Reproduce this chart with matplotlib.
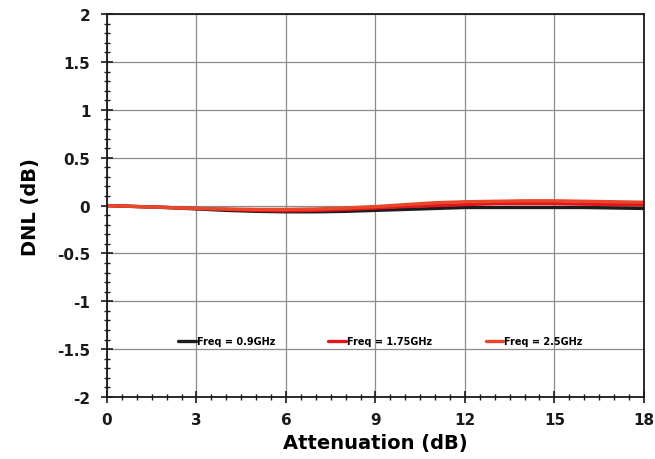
import matplotlib
matplotlib.use("Agg")
import matplotlib.pyplot as plt
from matplotlib.ticker import MultipleLocator

attenuation = [0, 1, 2, 3, 4, 5, 6, 7, 8, 9, 10, 11, 12, 13, 14, 15, 16, 17, 18]
dnl_0p9 = [0, -0.01, -0.02, -0.035, -0.05, -0.06, -0.065, -0.065, -0.06, -0.05,
           -0.04, -0.03, -0.02, -0.02, -0.02, -0.02, -0.02, -0.025, -0.03]
dnl_1p75 = [0, -0.01, -0.02, -0.03, -0.04, -0.05, -0.055, -0.05, -0.04, -0.025,
            -0.01, 0.0, 0.01, 0.02, 0.02, 0.02, 0.015, 0.01, 0.01]
dnl_2p5 = [0, -0.01, -0.02, -0.03, -0.035, -0.04, -0.04, -0.035, -0.025, -0.01,
           0.01, 0.03, 0.04, 0.045, 0.05, 0.05, 0.045, 0.04, 0.035]
series_labels = ["Freq = 0.9GHz", "Freq = 1.75GHz", "Freq = 2.5GHz"]
series_colors = ["#1c1c1c", "#e3151c", "#e8472a"]
y_ticks = [-2, -1.5, -1, -0.5, 0, 0.5, 1, 1.5, 2]
y_tick_labels = ["-2", "-1.5", "-1", "-0.5", "0", "0.5", "1", "1.5", "2"]

fig = plt.figure(figsize=(6.55, 4.6), dpi=100)
ax = fig.add_axes([0.1634, 0.1348, 0.8196, 0.8322])

for ys, lab, col in zip([dnl_0p9, dnl_1p75, dnl_2p5], series_labels, series_colors):
    ax.plot(attenuation, ys, color=col, lw=2.4, label=lab, solid_capstyle="round")

ax.set_xlim(0, 18)
ax.set_ylim(-2, 2)
ax.xaxis.set_major_locator(MultipleLocator(3))
ax.xaxis.set_minor_locator(MultipleLocator(0.5))
ax.set_yticks(y_ticks)
ax.set_yticklabels(y_tick_labels)
ax.yaxis.set_minor_locator(MultipleLocator(0.1))

ax.grid(True, which="major", color="#8c8c8c", lw=0.9)
ax.set_axisbelow(True)
for s in ax.spines.values():
    s.set_color("#1a1a1a")
    s.set_linewidth(1.3)

ax.tick_params(which="major", direction="inout", length=8, width=1.2, colors="#1a1a1a")
ax.tick_params(which="minor", direction="inout", length=4, width=1.0, colors="#1a1a1a")
ax.tick_params(axis="y", which="major", pad=8)
ax.tick_params(axis="x", which="major", pad=7)
for lbl in ax.get_xticklabels() + ax.get_yticklabels():
    lbl.set_fontweight("bold")
    lbl.set_fontsize(11)
    lbl.set_color("#1a1a1a")

ax.set_xlabel("Attenuation (dB)", fontsize=14, fontweight="bold", labelpad=4)
ax.set_ylabel("DNL (dB)", fontsize=14, fontweight="bold", labelpad=12)

ax.legend(loc="center", bbox_to_anchor=(0.509, 0.146), ncol=3, frameon=False,
          prop={"weight": "bold", "size": 7}, handlelength=1.8, handletextpad=0.1,
          columnspacing=5.5)

fig.savefig("out.png", dpi=100, facecolor="white")
